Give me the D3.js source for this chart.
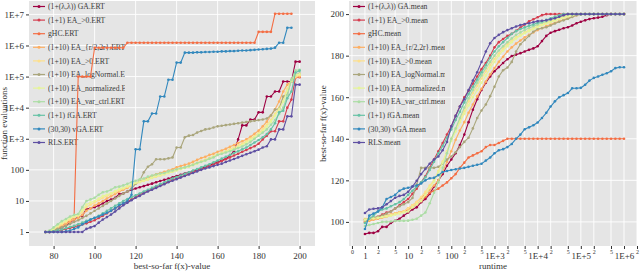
<!DOCTYPE html>
<html>
<head>
<meta charset="utf-8">
<script src="https://cdn.jsdelivr.net/npm/d3@7/dist/d3.min.js"></script>
<style>
  body { margin: 0; background: #fff; }
  text { font-family: "Liberation Serif", "DejaVu Serif", serif; }
</style>
</head>
<body>
<div id="chart"></div>
<script>
// chart size
var svgWidth = 640;
var svgHeight = 271;

// series names and colours (same order in both panels)
var algos = ["(1+(λ,λ)) GA", "(1+1) EA_>0", "gHC", "(1+10) EA_{r/2,2r}", "(1+10) EA_>0",
  "(1+10) EA_logNormal", "(1+10) EA_normalized", "(1+10) EA_var_ctrl", "(1+1) fGA", "(30,30) vGA", "RLS"];
var colors = ["#9e0142", "#d53e4f", "#f46d43", "#fdae61", "#fee08b", "#aaa67c",
  "#e6f598", "#abdda4", "#66c2a5", "#3288bd", "#5e4fa2"];

// left panel: targets (best-so-far f(x)) and ERT per algorithm
var targets = [76, 78, 80, 82, 84, 86, 88, 90, 92, 94, 96, 98, 100, 102, 104, 106, 108, 110, 112, 114,
  116, 118, 120, 122, 124, 126, 128, 130, 132, 134, 136, 138, 140, 142, 144, 146, 148, 150, 152, 154,
  156, 158, 160, 162, 164, 166, 168, 170, 172, 174, 176, 178, 180, 182, 184, 186, 188, 190, 192, 194,
  196, 198, 200];

var ertGA = [1, 1, 1.12, 1.26, 1.41, 1.58, 2, 2.5, 3, 3.3, 5.5, 5.8, 6.3, 7.1, 8.3, 10, 11, 12.6, 16.6, 17.4,
  20, 23, 25, 27.5, 30, 33, 36, 40, 44, 48, 52, 58, 63, 69, 76, 83, 91, 100, 112, 126,
  141, 158, 178, 200, 229, 282, 398, 955, 2690, 2690, 4170, 4170, 7080, 7080, 22900, 22900, 33100, 33100, 69200, 69200,
  69200, 302000, 302000];
var ertEA1 = [1, 1, 1.05, 1.1, 1.17, 1.26, 1.35, 1.45, 1.58, 1.74, 1.9, 2.14, 2.4, 2.82, 3.31, 3.98, 4.79, 5.75, 6.92, 8.32,
  9.55, 11.2, 13.2, 15.8, 18.2, 20.9, 24, 27.5, 31.6, 36.3, 41.7, 46.8, 52.5, 58.9, 66.1, 74.1, 83.2, 93.3, 105, 117,
  132, 148, 166, 191, 219, 251, 288, 331, 380, 437, 501, 575, 692, 955, 1260, 1740, 1740, 3630, 3630, 10000,
  18200, 93300, 95500];
var ertGHC = [1, 1.05, 1.15, 1.32, 1.58, 1.9, 2.4, 3.02, 1e5, 1e5, 1e5, 1e5, 8.5e5, 8.5e5, 8.5e5, 8.5e5, 8.5e5, 8.5e5, 8.5e5, 8.5e5,
  1.23e6, 1.23e6, 1.23e6, 1.23e6, 1.23e6, 1.23e6, 1.23e6, 1.23e6, 1.23e6, 1.23e6,
  1.23e6, 1.23e6, 1.23e6, 1.23e6, 1.23e6, 1.23e6, 1.23e6, 1.23e6, 1.23e6, 1.23e6,
  1.23e6, 1.23e6, 1.23e6, 1.23e6, 1.23e6, 1.23e6, 1.23e6, 1.23e6, 1.23e6, 1.23e6,
  1.23e6, 1.23e6, 2.75e6, 2.75e6, 2.75e6, 2.75e6, 1.05e7, 1.05e7, 1.05e7, 1.05e7,
  1.05e7, null, null];
var ertRR = [1, 1.05, 1.15, 1.32, 1.58, 1.82, 2.14, 2.51, 2.82, 3.55, 4.79, 5.75, 7.08, 8.32, 10, 12, 14.1, 16.6, 20, 22.9,
  26.3, 31.6, 36.3, 41.7, 47.9, 55, 63.1, 72.4, 79.4, 87.1, 95.5, 105, 120, 132, 145, 158, 182, 209, 240, 263,
  302, 331, 380, 417, 479, 550, 631, 724, 832, 955, 1150, 1450, 1820, 2510, 3550, 5620, 8910, 15800, 33100, 55000,
  70800, 93300, 100000];
var ertEA10 = [1, 1.07, 1.2, 1.45, 1.78, 2.09, 2.51, 3.02, 3.31, 4.47, 6.31, 7.59, 8.91, 10.5, 12.6, 14.5, 16.6, 19, 21.9, 25.1,
  28.2, 31.6, 35.5, 39.8, 43.7, 47.9, 55, 60.3, 66.1, 72.4, 79.4, 89.1, 100, 110, 120, 132, 151, 170, 191, 214,
  240, 275, 316, 355, 398, 457, 525, 603, 692, 832, 1000, 1200, 1510, 2000, 2820, 3980, 6310, 10000, 20000, 39800,
  79400, 100000, 110000];
var ertLN = [1, 1.05, 1.15, 1.26, 1.41, 1.58, 1.82, 2.09, 2.4, 2.82, 3.31, 3.98, 4.79, 5.75, 6.92, 8.32, 10, 12, 14.5, 17.4,
  20, 25.1, 35.5, 44.7, 83.2, 126, 151, 219, 219, 219, 234, 251, 525, 525, 1120, 1260, 1320, 1580, 1780, 2000,
  2090, 2290, 2510, 2630, 2750, 2880, 3020, 3160, 3310, 3470, 3630, 3800, 3980, 4170, 4470, 5620, 8710, 9120, 22900, 26300,
  79400, 115000, 126000];
var ertNZ = [1, 1.07, 1.26, 1.58, 2, 2.29, 2.75, 3.16, 3.55, 5.01, 7.59, 8.91, 10, 12, 14.5, 15.8, 17.8, 20.9, 24, 26.3,
  30.2, 33.1, 38, 41.7, 45.7, 50.1, 56.2, 63.1, 67.6, 72.4, 79.4, 87.1, 95.5, 105, 115, 126, 141, 158, 178, 200,
  224, 263, 302, 339, 380, 427, 479, 550, 631, 759, 912, 1120, 1410, 1780, 2510, 3550, 5620, 8910, 15800, 35500,
  70800, 112000, 120000];
var ertVC = [1, 1.12, 1.41, 1.78, 2.24, 2.63, 3.16, 3.55, 3.8, 6.31, 10, 11.2, 12.6, 15.8, 19, 20, 22.9, 27.5, 28.8, 31.6,
  35.5, 39.8, 44.7, 50.1, 52.5, 60.3, 66.1, 70.8, 75.9, 79.4, 89.1, 95.5, 105, 112, 120, 132, 145, 166, 182, 200,
  229, 251, 302, 331, 363, 398, 447, 501, 562, 661, 794, 1000, 1260, 1580, 2000, 2820, 3980, 6310, 10000, 25100,
  79400, 158000, 166000];
var ertFG = [1, 1, 1.05, 1.12, 1.2, 1.32, 1.45, 1.58, 1.78, 2, 2.29, 2.51, 2.82, 3.31, 3.98, 4.79, 5.75, 6.92, 8.32, 10,
  11.5, 13.2, 15.1, 17.4, 20, 22.9, 26.3, 30.2, 34.7, 39.8, 45.7, 52.5, 58.9, 66.1, 74.1, 83.2, 95.5, 107, 120, 135,
  151, 174, 200, 229, 263, 302, 347, 398, 457, 525, 631, 759, 912, 1120, 1410, 2000, 3160, 7080, 7940, 20000,
  33100, 135000, 155000];
var ertVGA = [1, 1, 1, 1, 1, 1.05, 1.12, 1.26, 1.41, 1.78, 2.09, 2.51, 2.88, 3.16, 3.63, 4.17, 4.79, 5.75, 7.24, 8.32,
  10, 15.8, 457, 457, 3630, 3630, 6460, 6460, 22900, 22900,
  79400, 79400, 282000, 282000, 589000, 589000, 589000, 603000, 603000, 617000,
  617000, 631000, 631000, 646000, 646000, 661000, 661000, 676000, 692000, 692000,
  708000, 724000, 741000, 759000, 776000, 794000, 851000, 1230000, 1230000, 3720000,
  3720000, null, null];
var ertRLS = [1, 1, 1, 1, 1, 1, 1, 1, 1, 1, 1.26, 1.41, 1.55, 2, 2.51, 3.02, 3.63, 4.57, 5.75, 7.24,
  8.71, 10.5, 12.6, 14.5, 17.4, 20, 22.9, 26.3, 30.2, 34.7, 39.8, 44.7, 50.1, 56.2, 63.1, 70.8, 79.4, 89.1, 100, 110,
  120, 132, 145, 158, 178, 200, 224, 251, 282, 316, 355, 398, 447, 525, 575, 955, 955, 2000, 2000, 5250,
  5250, 55000, 55000];

// right panel: runtimes and mean best-so-far f(x) per algorithm
var runtimes = [1, 1.26, 1.58, 2, 2.51, 3.16, 3.98, 5.01, 6.31, 7.94,
  10, 12.6, 15.8, 20, 25.1, 31.6, 39.8, 50.1, 63.1, 79.4,
  100, 126, 158, 200, 251, 316, 398, 501, 631, 794,
  1000, 1259, 1585, 1995, 2512, 3162, 3981, 5012, 6310, 7943,
  1e4, 12589, 15849, 19953, 25119, 31623, 39811, 50119, 63096, 79433,
  1e5, 125893, 158489, 199526, 251189, 316228, 398107, 501187, 630957, 794328,
  1e6];

var meanGA = [94.2, 94.7, 94.7, 95.5, 97.6, 97.6, 99.5, 100.5, 101.5, 103,
  104.5, 106, 107, 109.5, 111, 113.5, 117, 120, 123, 127,
  130, 133, 137, 142, 148, 154, 159, 163.5, 167, 170,
  172.5, 174.5, 176.5, 178.3, 179.8, 180.5, 181.2, 182, 182.8, 183.5,
  184.5, 187, 189.5, 191, 191.8, 192.5, 193.2, 193.7, 194.5, 195.6,
  196.3, 197, 197.6, 198, 198.3, 198.7, 199.5, 200, 200, 200, 200];
var meanEA1 = [100, 101, 102, 102.5, 103.5, 104.5, 105, 106.5, 108, 109.5,
  111, 113.5, 116, 119, 122, 126, 130, 134, 138, 142,
  146, 151, 155.5, 160, 163, 166.5, 170, 173.5, 176.5, 180,
  184, 186.5, 188, 189.5, 190.5, 192, 193.5, 195, 196.5, 197.5,
  198.5, 199.5, 200, 200, 200, 200, 200, 200, 200, 200,
  200, 200, 200, 200, 200, 200, 200, 200, 200, 200, 200];
var meanGHC = [101, 101, 101.5, 102, 102.5, 103, 103.5, 104, 104.5, 105,
  106, 107, 108.5, 110, 112, 114, 115, 116, 117.5, 119,
  121, 123, 126, 128.5, 131, 132, 133, 134, 136, 137,
  137, 138, 139, 140, 140, 140, 140, 140, 140, 140,
  140, 140, 140, 140, 140, 140, 140, 140, 140, 140,
  140, 140, 140, 140, 140, 140, 140, 140, 140, 140, 140];
var meanRR = [100, 100.5, 101, 101.5, 102, 102.5, 103.2, 104, 104.6, 105,
  106.5, 108, 109.5, 111.5, 113.5, 115.5, 117.5, 120, 124, 129,
  134, 139.5, 144, 148, 152.5, 156.5, 160.5, 164, 167.5, 171,
  174, 177, 179.5, 182, 184, 185.8, 187.3, 188.8, 190, 191.2,
  192.3, 193.3, 194.2, 195, 195.8, 196.6, 197.3, 198, 198.7, 199.4,
  200, 200, 200, 200, 200, 200, 200, 200, 200, 200, 200];
var meanEA10 = [101.5, 101.7, 102, 102.3, 102.6, 103, 103.5, 104, 104.5, 105,
  106.5, 108, 109.5, 112, 114.5, 117.5, 120, 124.5, 129, 134,
  140, 144.5, 149, 153.5, 158, 162, 165.5, 169, 172.5, 175.5,
  178.5, 181, 183.5, 185.5, 187.3, 188.8, 190, 191.2, 192.2, 193.2,
  194.2, 195, 195.8, 196.5, 197.2, 197.9, 198.6, 199.3, 200, 200,
  200, 200, 200, 200, 200, 200, 200, 200, 200, 200, 200];
var meanLN = [101, 101.5, 102, 102.5, 103, 104, 105, 106.5, 107.5, 108.5,
  109.5, 111.5, 118, 126, 126, 126, 126, 126.5, 128, 130,
  131.5, 133.5, 136, 138.5, 140.5, 145, 150, 153.6, 156.5, 160.5,
  165, 170, 173, 174.3, 177, 182, 185.5, 187.5, 189.5, 191.5,
  192.8, 193.2, 193.7, 194.5, 195.5, 196.3, 197, 197.7, 198.6, 199.5,
  199.8, 200, 200, 200, 200, 200, 200, 200, 200, 200, 200];
var meanNZ = [101, 101.3, 101.6, 102, 102.3, 102.6, 103, 103.5, 104, 104.5,
  105, 107, 108.5, 110, 113, 116.5, 119.5, 124, 128.5, 133.5,
  139, 143.5, 148, 152, 156, 160, 163.5, 167, 170.5, 174,
  177, 180, 182.5, 184.5, 186.5, 188.2, 189.6, 190.8, 191.8, 192.8,
  193.8, 194.6, 195.4, 196.1, 196.8, 197.5, 198.2, 198.9, 199.5, 200,
  200, 200, 200, 200, 200, 200, 200, 200, 200, 200, 200];
var meanVC = [98, 98.5, 99, 99.5, 100, 100, 100.2, 100.5, 100.5, 100.5,
  100.6, 101, 101.5, 103, 104.5, 109, 114, 119, 126, 133,
  140, 145, 150, 155, 159.5, 163.5, 167, 170.5, 174, 177,
  180, 182.5, 184.5, 186.5, 188.3, 190, 191.2, 192.3, 193.3, 194.2,
  195, 195.8, 196.5, 197.2, 197.9, 198.6, 199.3, 200, 200, 200,
  200, 200, 200, 200, 200, 200, 200, 200, 200, 200, 200];
var meanFG = [99.5, 101.5, 103, 105, 106, 106.5, 107.5, 108.5, 109.5, 111,
  113, 115, 117, 119, 121.5, 125, 129, 133, 136.5, 140.5,
  144.5, 149, 153, 157.5, 161.5, 165, 168.5, 172, 175.5, 179,
  182, 184.5, 186.5, 188.5, 190.5, 191.8, 192.8, 193.6, 194.4, 195,
  195.8, 196.5, 197.2, 198, 198.7, 199.4, 200, 200, 200, 200,
  200, 200, 200, 200, 200, 200, 200, 200, 200, 200, 200];
var meanVGA = [96.6, 103, 104, 105, 107, 111, 112, 113, 115, 116,
  116.4, 117, 117.5, 118.5, 120, 121, 121.2, 122.5, 124, 124.5,
  125, 125.3, 125.7, 126, 126.5, 127, 127.5, 128, 129.5, 131,
  133, 134.5, 135, 136, 137.5, 140, 142, 144.6, 145.5, 146.5,
  147.8, 150, 152.5, 155.5, 158, 160, 161, 162, 164.3, 164.3,
  164.5, 166, 168, 169.3, 170, 170.8, 171.5, 172.5, 174, 174.4, 174.4];
var meanRLS = [104.3, 106, 106.3, 106.5, 107, 108.5, 110, 111.6, 112.5, 113,
  114.5, 117, 119.8, 123, 125.5, 128, 130, 131.5, 134.5, 138.5,
  146, 151, 155.5, 159, 163.5, 168, 172, 177, 182, 186,
  188.5, 190, 191.3, 192.3, 193.2, 194, 194.7, 195.2, 195.6, 196.1,
  196.6, 196.8, 197, 197.5, 198, 198.7, 199.5, 200, 200, 200,
  200, 200, 200, 200, 200, 200, 200, 200, 200, 200, 200];

var ertSeries = [ertGA, ertEA1, ertGHC, ertRR, ertEA10, ertLN, ertNZ, ertVC, ertFG, ertVGA, ertRLS];
var meanSeries = [meanGA, meanEA1, meanGHC, meanRR, meanEA10, meanLN, meanNZ, meanVC, meanFG, meanVGA, meanRLS];

// tick values
var ertTicks = [1, 10, 100, 1e3, 1e4, 1e5, 1e6, 1e7];
var targetTicks = [80, 100, 120, 140, 160, 180, 200];
var fxTicks = [100, 120, 140, 160, 180, 200];
var runMajor = [1, 10, 100, 1e3, 1e4, 1e5, 1e6];
var runMinor = [0.5, 2, 5, 20, 50, 200, 500, 2e3, 5e3, 2e4, 5e4, 2e5, 5e5, 2e6];

var svg = d3.select("#chart").append("svg")
  .attr("width", svgWidth)
  .attr("height", svgHeight);

function fmtErt(v) {
  var e = Math.round(Math.log10(v));
  return e < 3 ? String(v) : "1E+" + e;
}

// draws one panel
function drawPanel(p) {
  var g = svg.append("g");
  var x = p.x, y = p.y;
  var x0 = x.range()[0], x1 = x.range()[1];
  var y0 = y.range()[1], y1 = y.range()[0];

  g.append("rect")
    .attr("x", x0).attr("y", y0)
    .attr("width", x1 - x0).attr("height", y1 - y0)
    .attr("fill", "#e5e5e5");

  // grid
  g.selectAll(".gx").data(p.xGrid).enter().append("line")
    .attr("x1", d => x(d)).attr("x2", d => x(d))
    .attr("y1", y0).attr("y2", y1)
    .attr("stroke", "#fff").attr("stroke-width", 0.9);
  g.selectAll(".gy").data(p.yGrid).enter().append("line")
    .attr("x1", x0).attr("x2", x1)
    .attr("y1", d => y(d)).attr("y2", d => y(d))
    .attr("stroke", "#fff").attr("stroke-width", 0.9);

  // y axis
  var yAxis = g.append("g")
    .attr("transform", `translate(${x0},0)`)
    .call(d3.axisLeft(y).tickValues(p.yTicks).tickFormat(p.yFmt).tickSize(3).tickPadding(2));
  yAxis.select(".domain").remove();
  yAxis.selectAll("line").attr("stroke", "#333");
  yAxis.selectAll("text").attr("font-size", 9).attr("fill", "#333")
    .attr("font-family", "Liberation Serif");

  // x axis
  var xAxis = g.append("g")
    .attr("transform", `translate(0,${y1})`)
    .call(d3.axisBottom(x).tickValues(p.xTicks).tickFormat(p.xFmt).tickSize(3).tickPadding(4));
  xAxis.select(".domain").remove();
  xAxis.selectAll("line").attr("stroke", "#333");
  xAxis.selectAll("text").attr("font-size", 9).attr("fill", "#333")
    .attr("font-family", "Liberation Serif");

  if (p.xMinor) {
    var xm = g.append("g")
      .attr("transform", `translate(0,${y1})`)
      .call(d3.axisBottom(x).tickValues(p.xMinor).tickFormat(d => String(d).charAt(0)).tickSize(3).tickPadding(1));
    xm.select(".domain").remove();
    xm.selectAll("line").attr("stroke", "#333");
    xm.selectAll("text").attr("font-size", 6).attr("fill", "#333")
      .attr("font-family", "Liberation Serif");
  }

  // axis titles
  g.append("text")
    .attr("x", (x0 + x1) / 2).attr("y", 269)
    .attr("text-anchor", "middle")
    .attr("font-size", 9).attr("fill", "#333")
    .text(p.xTitle);
  g.append("text")
    .attr("transform", `translate(${p.yTitleX},${(y0 + y1) / 2}) rotate(-90)`)
    .attr("text-anchor", "middle")
    .attr("font-size", 9).attr("fill", "#333")
    .text(p.yTitle);

  // legend (under the data, like the original)
  var clipId = "lg" + p.id;
  svg.append("clipPath").attr("id", clipId)
    .append("rect").attr("x", x0 + 19).attr("y", 0).attr("width", 77).attr("height", 160);
  var legend = g.append("g");
  algos.forEach(function (name, i) {
    var ly = 6.5 + i * 13.6;
    var lx = x0 + 4;
    legend.append("line")
      .attr("x1", lx).attr("x2", lx + 12).attr("y1", ly).attr("y2", ly)
      .attr("stroke", colors[i]).attr("stroke-width", 1.2);
    legend.append("circle")
      .attr("cx", lx + 6).attr("cy", ly).attr("r", 1.5)
      .attr("fill", colors[i]);
    legend.append("text")
      .attr("x", lx + 15).attr("y", ly + 2.6)
      .attr("font-size", 7.7).attr("fill", "#3a3a3a")
      .attr("clip-path", `url(#${clipId})`)
      .text(name + p.suffix);
  });

  // data
  var plotClip = "pc" + p.id;
  svg.append("clipPath").attr("id", plotClip)
    .append("rect").attr("x", x0).attr("y", y0).attr("width", x1 - x0).attr("height", y1 - y0);
  var plot = g.append("g").attr("clip-path", `url(#${plotClip})`);

  p.series.forEach(function (vals, i) {
    var pts = p.xs.map((xv, j) => [xv, vals[j]]).filter(d => d[1] != null);
    var line = d3.line().x(d => x(d[0])).y(d => y(d[1]));
    plot.append("path")
      .attr("d", line(pts))
      .attr("fill", "none")
      .attr("stroke", colors[i])
      .attr("stroke-width", 1.1);
    plot.selectAll(".m" + i).data(pts).enter().append("circle")
      .attr("cx", d => x(d[0])).attr("cy", d => y(d[1]))
      .attr("r", 1.3)
      .attr("fill", colors[i]);
  });
}

drawPanel({
  id: "L",
  x: d3.scaleLinear().domain([68, 207.5]).range([29, 315]),
  y: d3.scaleLog().domain([0.355, 2.7e7]).range([246, 1]),
  xs: targets,
  series: ertSeries,
  xGrid: targetTicks, yGrid: ertTicks,
  xTicks: targetTicks, yTicks: ertTicks,
  xFmt: d => String(d), yFmt: fmtErt,
  xTitle: "best-so-far f(x)-value",
  yTitle: "function evaluations",
  yTitleX: 7,
  suffix: ".ERT"
});

drawPanel({
  id: "R",
  x: d3.scaleLog().domain([0.427, 2e6]).range([349, 637]),
  y: d3.scaleLinear().domain([88.4, 206.3]).range([246, 1]),
  xs: runtimes,
  series: meanSeries,
  xGrid: runMajor.concat(runMinor), yGrid: fxTicks,
  xTicks: runMajor, yTicks: fxTicks,
  xMinor: runMinor,
  xFmt: d => (d < 1000 ? String(d) : "1E+" + Math.round(Math.log10(d))),
  yFmt: d => String(d),
  xTitle: "runtime",
  yTitle: "best-so-far f(x)-value",
  yTitleX: 326,
  suffix: ".mean"
});
</script>
</body>
</html>
